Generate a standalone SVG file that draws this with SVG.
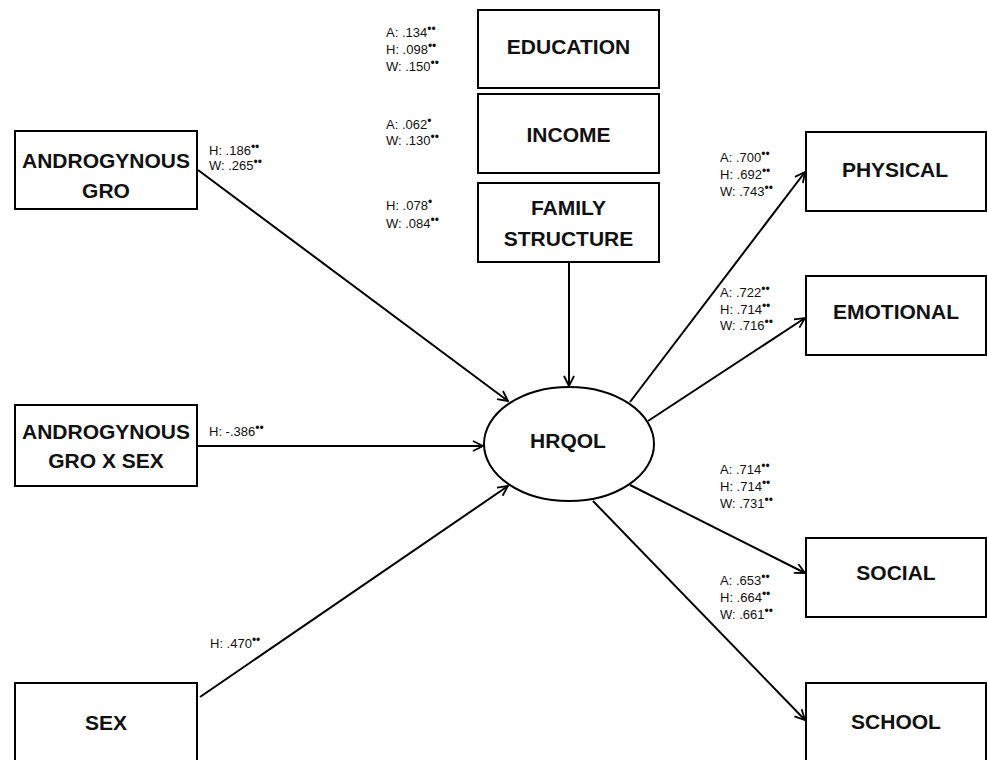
<svg xmlns="http://www.w3.org/2000/svg" width="987" height="760" viewBox="0 0 987 760">
<defs>
<style>
.box{fill:#fff;stroke:#000;stroke-width:2}
.nl{font-family:"Liberation Sans",Arial,sans-serif;font-weight:bold;font-size:21px;text-anchor:middle;fill:#111}
.el{font-family:"Liberation Sans",Arial,sans-serif;font-size:13px;fill:#111}
.st{font-size:12px}
.cn line{stroke:#000;stroke-width:2;marker-end:url(#ah)}
</style>
<marker id="ah" viewBox="0 0 12 12" refX="11" refY="6" markerWidth="12" markerHeight="12" markerUnits="userSpaceOnUse" orient="auto">
<polyline points="1,1 11,6 1,11" fill="none" stroke="#000" stroke-width="1.8"/>
</marker>
</defs>
<rect width="987" height="760" fill="#fff"/>
<g class="cn" id="connectors">
<line x1="569" y1="262" x2="569" y2="386"/>
<line x1="198" y1="170" x2="508" y2="401"/>
<line x1="197" y1="446" x2="483" y2="446"/>
<line x1="200" y1="697" x2="508" y2="486"/>
<line x1="630" y1="402" x2="805" y2="172"/>
<line x1="648" y1="421" x2="805" y2="318"/>
<line x1="630" y1="485" x2="805" y2="573"/>
<line x1="593" y1="501" x2="805" y2="720"/>
</g>
<g id="education"><rect class="box" x="478" y="10" width="181" height="78"/><text class="nl" x="568.5" y="54">EDUCATION</text></g>
<g id="income"><rect class="box" x="478" y="94" width="181" height="79"/><text class="nl" x="568.5" y="142">INCOME</text></g>
<g id="family"><rect class="box" x="478" y="183" width="181" height="79"/><text class="nl" x="568.5" y="215">FAMILY</text><text class="nl" x="568.5" y="246">STRUCTURE</text></g>
<g id="andro"><rect class="box" x="15" y="131" width="182" height="78"/><text class="nl" x="106" y="168">ANDROGYNOUS</text><text class="nl" x="106" y="198">GRO</text></g>
<g id="androsex"><rect class="box" x="15" y="405" width="182" height="81"/><text class="nl" x="106" y="439">ANDROGYNOUS</text><text class="nl" x="106" y="468">GRO X SEX</text></g>
<g id="sex"><rect class="box" x="15" y="683" width="182" height="90"/><text class="nl" x="106" y="730">SEX</text></g>
<g id="hrqol"><ellipse cx="569" cy="444" rx="85" ry="57" fill="#fff" stroke="#000" stroke-width="2"/><text class="nl" x="568" y="448">HRQOL</text></g>
<g id="physical"><rect class="box" x="806" y="132" width="180" height="79"/><text class="nl" x="895" y="177">PHYSICAL</text></g>
<g id="emotional"><rect class="box" x="806" y="276" width="180" height="79"/><text class="nl" x="896" y="319">EMOTIONAL</text></g>
<g id="social"><rect class="box" x="806" y="538" width="180" height="79"/><text class="nl" x="896" y="580">SOCIAL</text></g>
<g id="school"><rect class="box" x="806" y="683" width="180" height="90"/><text class="nl" x="896" y="729">SCHOOL</text></g>
<g id="labels">
<text class="el" x="386" y="37">A: .134<tspan class="st" dy="-4">••</tspan></text>
<text class="el" x="386" y="54">H: .098<tspan class="st" dy="-4">••</tspan></text>
<text class="el" x="386" y="71">W: .150<tspan class="st" dy="-4">••</tspan></text>
<text class="el" x="386" y="129">A: .062<tspan class="st" dy="-4">•</tspan></text>
<text class="el" x="386" y="145">W: .130<tspan class="st" dy="-4">••</tspan></text>
<text class="el" x="386" y="210">H: .078<tspan class="st" dy="-4">•</tspan></text>
<text class="el" x="386" y="228">W: .084<tspan class="st" dy="-4">••</tspan></text>
<text class="el" x="209" y="155">H: .186<tspan class="st" dy="-4">••</tspan></text>
<text class="el" x="209" y="170">W: .265<tspan class="st" dy="-4">••</tspan></text>
<text class="el" x="209" y="436">H: -.386<tspan class="st" dy="-4">••</tspan></text>
<text class="el" x="210" y="648">H: .470<tspan class="st" dy="-4">••</tspan></text>
<text class="el" x="720" y="162">A:  .700<tspan class="st" dy="-4">••</tspan></text>
<text class="el" x="720" y="179">H: .692<tspan class="st" dy="-4">••</tspan></text>
<text class="el" x="720" y="196">W: .743<tspan class="st" dy="-4">••</tspan></text>
<text class="el" x="720" y="297">A: .722<tspan class="st" dy="-4">••</tspan></text>
<text class="el" x="720" y="314">H: .714<tspan class="st" dy="-4">••</tspan></text>
<text class="el" x="720" y="330">W: .716<tspan class="st" dy="-4">••</tspan></text>
<text class="el" x="720" y="474">A: .714<tspan class="st" dy="-4">••</tspan></text>
<text class="el" x="720" y="491">H: .714<tspan class="st" dy="-4">••</tspan></text>
<text class="el" x="720" y="508">W: .731<tspan class="st" dy="-4">••</tspan></text>
<text class="el" x="720" y="585">A: .653<tspan class="st" dy="-4">••</tspan></text>
<text class="el" x="720" y="602">H: .664<tspan class="st" dy="-4">••</tspan></text>
<text class="el" x="720" y="619">W: .661<tspan class="st" dy="-4">••</tspan></text>
</g>
</svg>
